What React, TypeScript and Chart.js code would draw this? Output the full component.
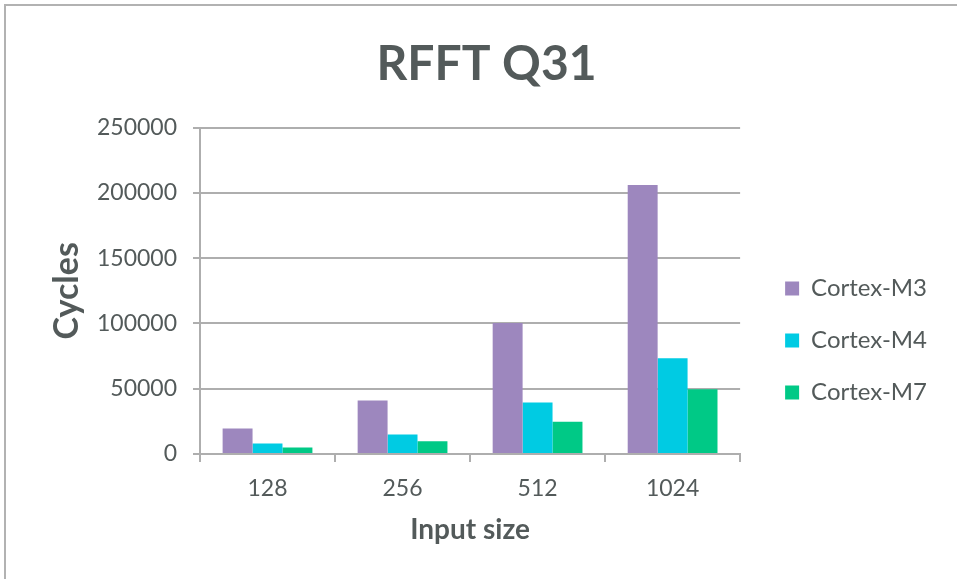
import React, { useEffect, useRef } from "react";
import { Chart, registerables } from "chart.js";

Chart.register(...registerables);

const chartTitle = "RFFT Q31";
const xTitle = "Input size";
const yTitle = "Cycles";
const categories = ["128", "256", "512", "1024"];
const seriesNames = ["Cortex-M3", "Cortex-M4", "Cortex-M7"];
const m3Values = [19600, 41000, 100300, 206000];
const m4Values = [8000, 15000, 39400, 73300];
const m7Values = [4900, 9800, 24700, 49500];
const yMin = 0;
const yMax = 250000;
const yStep = 50000;
const seriesColors = ["#9d87be", "#00cbe3", "#00c986"];

const FONT = "Lato, 'Open Sans', sans-serif";
const TEXT = "#535a5a";
const GRID = "#aeaeae";

const PAD_R = 37;
const PAD_L = 53;

const legendShift = {
  id: "legendShift",
  afterLayout(chart: any) {
    const lg = chart.legend;
    if (!lg) return;
    lg.left += 17;
    lg.right += 17;
    lg.top += 51;
    lg.bottom += 51;
  },
};

export default function App() {
  const ref = useRef<HTMLCanvasElement | null>(null);

  useEffect(() => {
    if (!ref.current) return;
    const values = [m3Values, m4Values, m7Values];
    const chart = new Chart(ref.current, {
      type: "bar",
      data: {
        labels: categories,
        datasets: seriesNames.map((name, i) => ({
          label: name,
          data: values[i],
          backgroundColor: seriesColors[i],
          borderWidth: 0,
          categoryPercentage: 0.665,
          barPercentage: 1.0,
        })),
      },
      options: {
        responsive: false,
        animation: false,
        layout: { padding: { left: PAD_L, right: PAD_R, top: 0, bottom: 0 } },
        plugins: {
          title: {
            display: true,
            text: chartTitle,
            color: TEXT,
            font: { family: FONT, size: 48, weight: "bold" },
            padding: { top: 36, bottom: 34 },
          },
          legend: {
            position: "right",
            align: "center",
            labels: {
              color: TEXT,
              font: { family: FONT, size: 24 },
              boxWidth: 14,
              boxHeight: 14,
              padding: 28,
            },
          },
          tooltip: { enabled: false },
        },
        scales: {
          x: {
            offset: true,
            grid: {
              offset: true,
              drawOnChartArea: false,
              drawTicks: true,
              tickLength: 8,
              color: GRID,
              lineWidth: 2,
            },
            border: { display: true, color: GRID, width: 2 },
            ticks: {
              color: TEXT,
              font: { family: FONT, size: 23 },
              padding: 13,
            },
            title: {
              display: true,
              text: xTitle,
              color: TEXT,
              font: { family: FONT, size: 28, weight: "bold" },
              padding: { top: 0, bottom: 32 },
            },
            afterFit(scale: any) {
              scale.height = 125;
            },
          },
          y: {
            min: yMin,
            max: yMax,
            ticks: {
              stepSize: yStep,
              color: TEXT,
              font: { family: FONT, size: 23 },
              padding: 16,
              callback: (v: any) => String(v),
            },
            grid: {
              color: GRID,
              lineWidth: 2,
              drawTicks: true,
              tickLength: 7,
            },
            border: { display: true, color: GRID, width: 2 },
            title: {
              display: true,
              text: yTitle,
              color: TEXT,
              font: { family: FONT, size: 34, weight: "bold" },
              padding: { top: -6, bottom: 0 },
            },
            afterFit(scale: any) {
              scale.width = 200 - PAD_L;
            },
          },
        },
      },
      plugins: [legendShift],
    } as any);
    return () => chart.destroy();
  }, []);

  return (
    <div
      style={{
        position: "fixed",
        left: 0,
        top: 0,
        width: 957,
        height: 579,
        background: "#ffffff",
        overflow: "hidden",
      }}
    >
      <div
        style={{
          position: "absolute",
          left: 4,
          top: 4,
          width: 1000,
          height: 1000,
          borderTop: "2px solid #b2b2b2",
          borderLeft: "2px solid #b2b2b2",
        }}
      />
      <canvas
        ref={ref}
        width={957}
        height={579}
        style={{ position: "absolute", left: 0, top: 0, width: 957, height: 579 }}
      />
    </div>
  );
}
